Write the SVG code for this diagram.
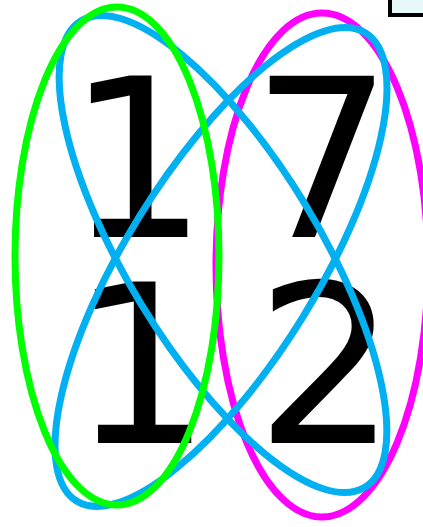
<svg xmlns="http://www.w3.org/2000/svg" width="423" height="527" viewBox="0 0 423 527">
<style>
.d{font-family:"DejaVu Sans",sans-serif;font-size:222px;fill:#000;text-anchor:middle}
.o{fill:none;stroke-width:7}
</style>
<rect width="423" height="527" fill="#fff"/>
<g id="box"><rect x="390" y="-10" width="50" height="25" fill="#E6F8F7" stroke="#000" stroke-width="4"/></g>
<g id="digits">
<text class="d" x="137" y="237">1</text>
<text class="d" x="322" y="237">7</text>
<text class="d" x="141" y="443">1</text>
<text class="d" x="326" y="443">2</text>
</g>
<g id="connectors">
<ellipse id="magenta" class="o" stroke="#FF00FF" cx="322" cy="265" rx="106" ry="252"/>
<ellipse id="blueA" class="o" stroke="#00B0F0" cx="223" cy="254" rx="273" ry="96" transform="rotate(58.7 223 254)"/>
<ellipse id="blueB" class="o" stroke="#00B0F0" cx="221" cy="267" rx="275" ry="96" transform="rotate(-58.3 221 267)"/>
<ellipse id="green" class="o" stroke="#00FF00" cx="117" cy="256" rx="102" ry="249"/>
</g>
</svg>
